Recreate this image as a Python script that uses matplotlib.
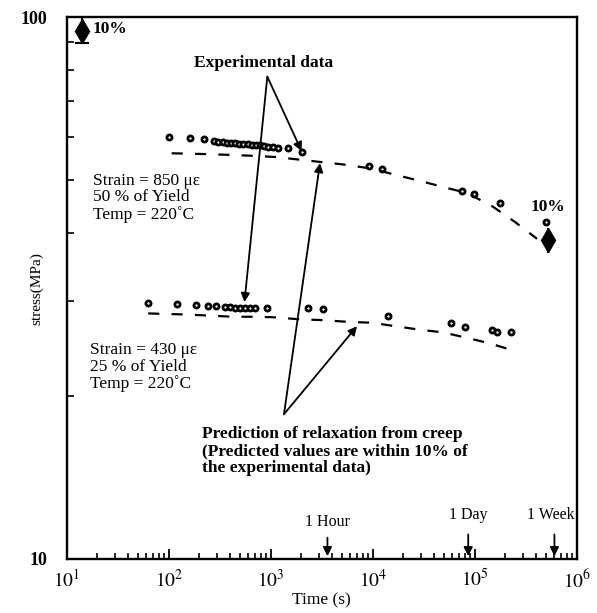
import numpy as np
import matplotlib
matplotlib.use("Agg")
import matplotlib.pyplot as plt
from matplotlib.ticker import FixedLocator, NullFormatter, LogLocator

plt.rcParams['font.family'] = ['Liberation Serif', 'DejaVu Serif']
plt.rcParams['mathtext.fontset'] = 'stix'

# --- datos ---
# 850 microstrain (50 % of yield)
t_hi = [100, 160, 220, 275, 305, 340, 370, 410, 445, 490, 540, 595, 650, 720,
        785, 865, 945, 1050, 1190, 1470, 2010, 9300, 12300, 74600, 98500,
        177000, 500000]
s_hi = [60.2, 59.8, 59.5, 59.1, 58.9, 58.8, 58.7, 58.5, 58.5, 58.3, 58.3, 58.3,
        58.2, 58.1, 58.0, 57.8, 57.7, 57.5, 57.3, 57.3, 56.5, 53.2, 52.4, 47.7,
        47.2, 45.5, 41.8]
t_hi_pred = [107, 236, 415, 671, 1145, 2087, 5600, 10070, 16550, 29100, 48900,
             83900, 151000, 248000, 408000]
s_hi_pred = [56.1, 55.9, 55.7, 55.5, 55.2, 54.5, 53.4, 52.5, 51.2, 49.9, 48.6,
             47.4, 44.7, 41.9, 39.0]

# 430 microstrain (25 % of yield)
t_lo = [63, 122, 185, 245, 291, 357, 399, 447, 500, 560, 627, 702, 927, 2340,
        3235, 14200, 58600, 80300, 147000, 164000, 225000]
s_lo = [29.65, 29.5, 29.4, 29.35, 29.3, 29.15, 29.2, 29.1, 29.1, 29.1, 29.1,
        29.1, 29.1, 29.1, 28.9, 28.1, 27.3, 26.8, 26.5, 26.3, 26.2]
t_lo_pred = [63, 123, 198, 291, 427, 627, 1030, 1937, 3260, 5730, 9840, 16550,
             29100, 48900, 83900, 141000, 232000]
s_lo_pred = [28.4, 28.3, 28.2, 28.1, 28.0, 28.0, 27.95, 27.7, 27.6, 27.4, 27.3,
             26.9, 26.5, 26.2, 25.6, 25.0, 24.3]

# barras de 10 %
err_t = [14, 527000]
err_mid = [94.5, 38.8]

# marcas de tiempo
hitos_t = [3600, 86400, 604800]
hitos_lbl = ['1 Hour', '1 Day', '1 Week']

fig = plt.figure(figsize=(5.97, 6.13), dpi=100)
ax = fig.add_axes([0.1117, 0.0881, 0.8543, 0.8837])
ax.set_xscale('log')
ax.set_yscale('log')
ax.set_xlim(10, 1e6)
ax.set_ylim(10, 100)

mk = dict(ls='none', marker='o', ms=3.7, mfc='white', mec='black', mew=2.0)
ax.plot(t_hi, s_hi, **mk)
ax.plot(t_lo, s_lo, **mk)
ax.plot(t_hi_pred, s_hi_pred, color='black', lw=1.6, dashes=(5, 5.5))
ax.plot(t_lo_pred, s_lo_pred, color='black', lw=1.6, dashes=(5, 5.5))

# barras de error (10 %)
for xe, ym in zip(err_t, err_mid):
    lo, hi = ym * 0.95, ym * 1.05
    ax.plot([xe, xe], [lo, hi], color='black', lw=1.5)
    ax.plot(xe, ym, marker='d', ms=12, color='black')
ax.plot([12.3, 16], [89.8, 89.8], color='black', lw=1.5)
ax.text(18, 95.1, '10%', fontsize=12.5, fontweight='bold', va='center', ha='left')
ax.text(5.2e5, 44.7, '10%', fontsize=12.5, fontweight='bold', va='center', ha='center')

# anotaciones
arr = dict(arrowstyle='-|>', color='black', lw=1.3, mutation_scale=13,
           shrinkA=0, shrinkB=0)
ax.text(860, 82.3, 'Experimental data', fontsize=12.5, fontweight='bold',
        ha='center', va='center')
ax.annotate('', xy=(2010, 56.6), xytext=(927, 77.7), arrowprops=arr)
ax.annotate('', xy=(553, 29.8), xytext=(927, 77.7), arrowprops=arr)

ax.text(212, 15.83, 'Prediction of relaxation from creep\n'
        '(Predicted values are within 10% of\nthe experimental data)',
        fontsize=12.5, fontweight='bold', ha='left', va='center', linespacing=1.1)
ax.annotate('', xy=(3043, 53.8), xytext=(1349, 18.5), arrowprops=arr)
ax.annotate('', xy=(7015, 26.9), xytext=(1349, 18.5), arrowprops=arr)

ax.text(18.1, 46.4, 'Strain = 850 \u03bc\u03b5\n50 % of Yield\nTemp = 220\u02daC',
        fontsize=12.5, ha='left', va='center', linespacing=1.05)
ax.text(16.9, 22.6, 'Strain = 430 \u03bc\u03b5\n25 % of Yield\nTemp = 220\u02daC',
        fontsize=12.5, ha='left', va='center', linespacing=1.05)

# hitos de tiempo
for tt, lbl, ytxt, ytail in zip(hitos_t, hitos_lbl, [11.7, 12.06, 12.06],
                                [10.95, 11.1, 11.1]):
    ax.annotate('', xy=(tt, 10.12), xytext=(tt, ytail),
                arrowprops=dict(arrowstyle='-|>', color='black', lw=1.3,
                                mutation_scale=13, shrinkA=0, shrinkB=0))
    ax.text(tt * (0.93 if lbl == '1 Week' else 1.0), ytxt, lbl, fontsize=11.5,
            ha='center', va='center')

# ejes
for sp in ax.spines.values():
    sp.set_linewidth(1.7)
ax.xaxis.set_minor_locator(LogLocator(base=10, subs=np.arange(2, 10), numticks=10))
ax.set_xticks([1e1, 1e2, 1e3, 1e4, 1e5, 1e6])
ax.set_xticklabels([r'$10^{1}$', r'$10^{2}$', r'$10^{3}$', r'$10^{4}$',
                    r'$10^{5}$', r'$10^{6}$'], fontsize=14)
ax.set_yticks([10, 100])
ax.set_yticklabels(['10', '100'], fontsize=13, fontweight='bold')
ax.yaxis.set_minor_locator(FixedLocator([20, 30, 40, 50, 60, 70, 80, 90]))
ax.yaxis.set_minor_formatter(NullFormatter())
ax.xaxis.set_minor_formatter(NullFormatter())
ax.tick_params(axis='both', which='both', direction='in', top=False, right=False)
ax.tick_params(axis='x', which='major', length=7, width=1.3, pad=7)
ax.tick_params(axis='x', which='minor', length=4, width=1.2)
ax.tick_params(axis='y', which='major', length=0, pad=14)
ax.tick_params(axis='y', which='minor', length=5, width=1.2)

ax.set_xlabel('Time (s)', fontsize=12.5, labelpad=1)
ax.set_ylabel('stress(MPa)', fontsize=11)
ax.yaxis.set_label_coords(-0.045, 0.5)

fig.savefig('out.png', dpi=100)
